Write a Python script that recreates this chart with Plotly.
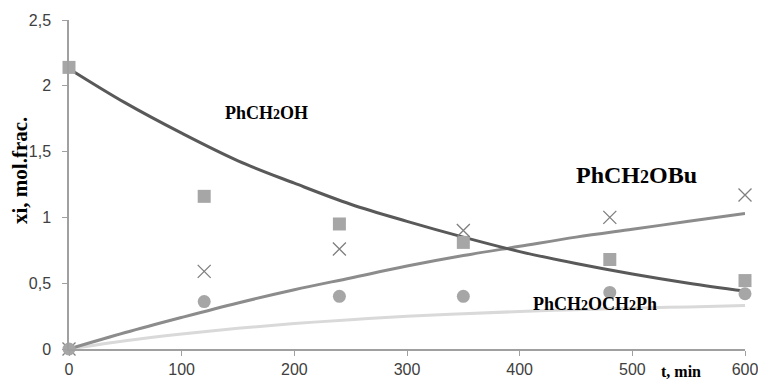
import plotly.graph_objects as go

# measured points
t_pts = [0, 120, 240, 350, 480, 600]
alcohol = [2.14, 1.16, 0.95, 0.81, 0.68, 0.52]      # squares
butyl_ether = [0, 0.59, 0.76, 0.90, 1.00, 1.17]      # crosses
dibenzyl_ether = [0, 0.36, 0.40, 0.40, 0.43, 0.42]   # circles

# smooth model curves
t_curve = [0, 50, 100, 150, 200, 250, 300, 350, 400, 450, 500, 550, 600]
alcohol_curve = [2.13, 1.87, 1.64, 1.43, 1.26, 1.10, 0.97, 0.85, 0.74, 0.65, 0.57, 0.50, 0.44]
butyl_curve = [0, 0.125, 0.24, 0.35, 0.45, 0.54, 0.63, 0.71, 0.78, 0.85, 0.91, 0.97, 1.03]
dibenzyl_curve = [0, 0.063, 0.114, 0.157, 0.193, 0.223, 0.248, 0.268, 0.285, 0.299, 0.31, 0.32, 0.33]

x_ticks = [0, 100, 200, 300, 400, 500, 600]
y_ticks = [0, 0.5, 1, 1.5, 2, 2.5]

fig = go.Figure()
fig.add_trace(go.Scatter(x=t_curve, y=dibenzyl_curve, mode="lines", line=dict(color="#D9D9D9", width=3, shape="spline"), cliponaxis=False))
fig.add_trace(go.Scatter(x=t_curve, y=butyl_curve, mode="lines", line=dict(color="#8C8C8C", width=3, shape="spline"), cliponaxis=False))
fig.add_trace(go.Scatter(x=t_curve, y=alcohol_curve, mode="lines", line=dict(color="#595959", width=3, shape="spline"), cliponaxis=False))
fig.add_trace(go.Scatter(x=t_pts, y=alcohol, mode="markers", marker=dict(symbol="square", size=13, color="#A6A6A6"), cliponaxis=False))
fig.add_trace(go.Scatter(x=t_pts, y=butyl_ether, mode="markers", marker=dict(symbol="x-thin-open", size=13, color="#7F7F7F", line=dict(color="#7F7F7F", width=1.3)), cliponaxis=False))
fig.add_trace(go.Scatter(x=t_pts, y=dibenzyl_ether, mode="markers", marker=dict(symbol="circle", size=13, color="#A6A6A6"), cliponaxis=False))

tickfont = dict(family="Liberation Sans, Arial", size=16, color="#404040")
serif_b = "Liberation Serif, Times New Roman, serif"

fig.update_layout(
    width=758, height=381,
    margin=dict(l=69, r=13, t=20, b=32),
    paper_bgcolor="white", plot_bgcolor="white",
    showlegend=False,
    separators=", ",
    xaxis=dict(range=[0, 600], tickvals=x_ticks, ticktext=[str(v) for v in x_ticks], automargin=False,
               showgrid=False, zeroline=False, showline=True, linecolor="#A0A0A0", linewidth=1.5,
               ticks="outside", ticklen=5, tickcolor="#A0A0A0", tickfont=tickfont, ticklabeloverflow="allow"),
    yaxis=dict(range=[0, 2.5], tickvals=y_ticks, tickformat=".1~f", automargin=False,
               showgrid=False, zeroline=False, showline=True, linecolor="#A0A0A0", linewidth=1.5,
               ticks="outside", ticklen=5, tickcolor="#A0A0A0", tickfont=tickfont, ticklabelstandoff=8,
               ticklabeloverflow="allow"),
    annotations=[
        dict(text="<b>xi, mol.frac.</b>", xref="paper", yref="paper", x=-0.0725, y=0.544, textangle=-90,
             showarrow=False, font=dict(family=serif_b, size=21, color="black"), xanchor="center", yanchor="middle"),
        dict(text="<b>t, min</b>", xref="x", yref="paper", x=543, y=-0.068, showarrow=False,
             font=dict(family=serif_b, size=16, color="black"), xanchor="center", yanchor="middle"),
        dict(text="<b>PhCH<span style='font-size:14px'>2</span>OH</b>", xref="x", yref="y", x=175, y=1.79, showarrow=False,
             font=dict(family=serif_b, size=18, color="black")),
        dict(text="<b>PhCH<span style='font-size:18px'>2</span>OBu</b>", xref="x", yref="y", x=504, y=1.32, showarrow=False,
             font=dict(family=serif_b, size=24, color="black")),
        dict(text="<b>PhCH<span style='font-size:14px'>2</span>OCH<span style='font-size:14px'>2</span>Ph</b>", xref="x", yref="y", x=467, y=0.34, showarrow=False,
             font=dict(family=serif_b, size=18, color="black")),
    ],
)

fig.write_html("out.html", config={"displayModeBar": False},
               post_script="document.body.style.margin='0';document.body.style.overflow='hidden';")
